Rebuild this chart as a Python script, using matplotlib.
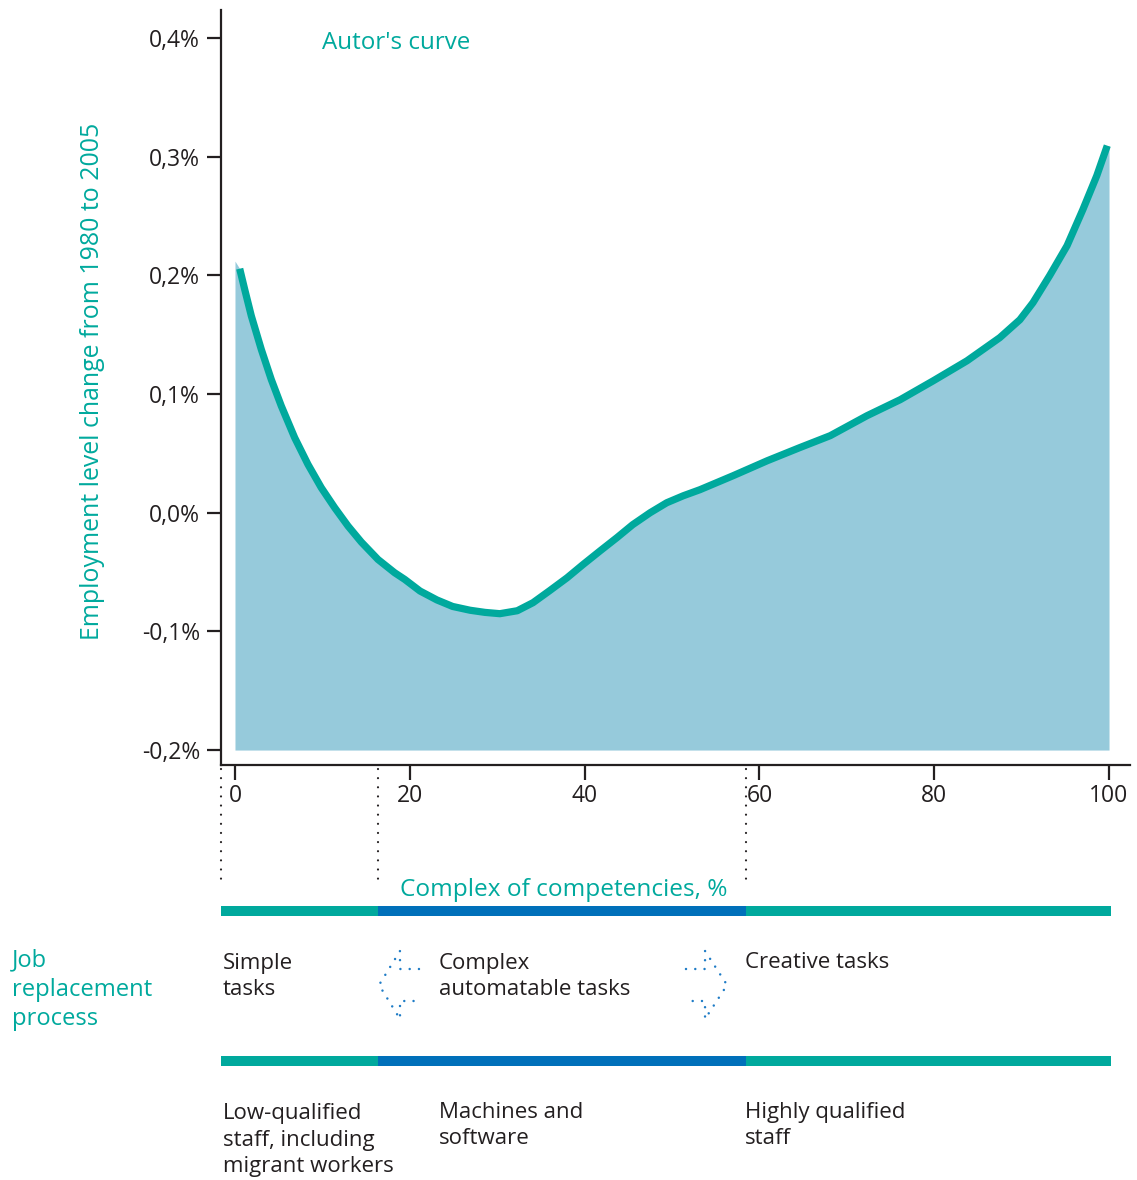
import matplotlib
matplotlib.use("Agg")
import matplotlib.pyplot as plt

# ---------------- data ----------------
competency = [0.54, 1.11, 1.87, 3.01, 4.15, 5.30, 6.83, 8.35, 9.87, 11.41, 12.93,
              14.45, 16.36, 18.27, 19.42, 21.17, 23.1, 24.9, 26.9, 28.6, 30.3, 32.3,
              34.1, 36.0, 38.0, 39.8, 41.8, 43.7, 45.5, 47.5, 49.4, 51.3, 53.2,
              57.0, 60.9, 64.6, 68.1, 72.3, 76.1, 79.9, 83.75, 87.5, 89.8, 91.3,
              93.2, 95.2, 97.0, 98.6, 99.8]
employment_change = [0.2056, 0.1882, 0.1658, 0.1376, 0.1123, 0.0899, 0.0632, 0.0407,
                     0.0211, 0.0042, -0.0112, -0.0247, -0.0394, -0.0506, -0.0562,
                     -0.0660, -0.0735, -0.0790, -0.0822, -0.0840, -0.0851, -0.0826,
                     -0.0758, -0.0657, -0.0548, -0.0438, -0.0320, -0.0210, -0.0101,
                     0.0000, 0.0084, 0.0143, 0.0194, 0.0312, 0.0438, 0.0548, 0.0649,
                     0.0817, 0.0952, 0.1112, 0.1280, 0.1475, 0.1626, 0.1770, 0.1997,
                     0.2250, 0.2553, 0.2840, 0.3093]
fill_start = (0.0, 0.212)      # area edge at x = 0
fill_end = (100.0, 0.3093)     # area edge at x = 100
area_base = -0.2

y_ticks = [-0.2, -0.1, 0.0, 0.1, 0.2, 0.3, 0.4]
y_ticklabels = ["-0,2%", "-0,1%", "0,0%", "0,1%", "0,2%", "0,3%", "0,4%"]
x_ticks = [0, 20, 40, 60, 80, 100]
x_ticklabels = ["0", "20", "40", "60", "80", "100"]

# competency bands (boundaries on the competency axis)
band_bounds = [-1.6, 16.4, 58.5, 100.2]
task_labels = ["Simple\ntasks", "Complex\nautomatable tasks", "Creative tasks"]
worker_labels = ["Low-qualified\nstaff, including\nmigrant workers",
                 "Machines and\nsoftware", "Highly qualified\nstaff"]
label_x = [-1.4, 23.3, 58.35]

# dotted arrows (competency units, vertical in layout px)
arrow_left_x = [21.05, 18.88, 18.88, 16.48, 18.88, 18.88, 21.05]
arrow_right_x = [51.6, 53.78, 53.78, 56.3, 53.78, 53.78, 51.6]
arrow_y = [969, 969, 951, 985, 1019, 1001, 1001]

# ---------------- style ----------------
TEAL = "#00A99D"
FILL = "#96CADB"
BLUE = "#0070BA"
DOT_BLUE = "#1F7CC6"
DARK = "#231F20"
FONT = ["Open Sans", "DejaVu Sans"]
plt.rcParams["font.family"] = FONT

W, H = 1137, 1180
fig = plt.figure(figsize=(W / 100, H / 100), dpi=100)

ax_left = 221 / W
ax_right = 1130 / W
ax_top = 10
ax_bottom = 765
ax = fig.add_axes([ax_left, 1 - ax_bottom / H, ax_right - ax_left, (ax_bottom - ax_top) / H])

xs_fill = [fill_start[0]] + competency + [fill_end[0]]
ys_fill = [fill_start[1]] + employment_change + [fill_end[1]]
ax.fill_between(xs_fill, ys_fill, area_base, color=FILL, lw=0, zorder=1)
ax.plot(competency, employment_change, color=TEAL, lw=5.2, solid_capstyle="butt",
        solid_joinstyle="round", zorder=3)

ax.set_xlim(-1.6, 102.4)
ax.set_ylim(-0.2126, 0.4236)
for s in ["top", "right"]:
    ax.spines[s].set_visible(False)
for s in ["left", "bottom"]:
    ax.spines[s].set_color(DARK)
    ax.spines[s].set_linewidth(1.6)
ax.set_yticks(y_ticks)
ax.set_yticklabels(y_ticklabels)
ax.set_xticks(x_ticks)
ax.set_xticklabels(x_ticklabels)
ax.tick_params(axis="y", direction="out", length=10, width=1.6, color=DARK,
               labelsize=16.5, labelcolor=DARK, pad=5)
ax.tick_params(axis="x", direction="out", length=11, width=1.6, color=DARK,
               labelsize=16.5, labelcolor=DARK, pad=3)

ax.text(10.0, 0.3905, "Autor's curve", color=TEAL, fontsize=17.4, ha="left", va="baseline")
fig.text(93 / W, 1 - 381 / H, "Employment level change from 1980 to 2005", color=TEAL,
         fontsize=17.9, rotation=90, ha="center", va="center")

# ---------------- lower panel ----------------
ax2 = fig.add_axes([ax_left, 0, ax_right - ax_left, 1 - ax_bottom / H])
ax2.set_xlim(-1.6, 102.4)
ax2.set_ylim(H, ax_bottom)
ax2.axis("off")

for xb in band_bounds[:3]:
    ax2.plot([xb, xb], [769, 885], color=DARK, lw=1.6, linestyle=(0, (0.01, 4.1)),
             dash_capstyle="round", clip_on=False)

band_colors = [TEAL, BLUE, TEAL]
segs = [(band_bounds[i], band_bounds[i + 1] - band_bounds[i]) for i in range(3)]
ax2.broken_barh(segs, (906, 10), facecolors=band_colors, lw=0)
ax2.broken_barh(segs, (1056, 10), facecolors=band_colors, lw=0)

ax2.text(18.9, 895.5, "Complex of competencies, %", color=TEAL, fontsize=17.6,
         ha="left", va="baseline")

# va='baseline' on multi-line text anchors the last line's baseline
task_last_baseline = [995, 995, 968]
worker_last_baseline = [1172, 1144.5, 1144.5]
for x, yb, t in zip(label_x, task_last_baseline, task_labels):
    ax2.text(x, yb, t, color=DARK, fontsize=16, ha="left", va="baseline",
             linespacing=1.31)
for x, yb, t in zip(label_x, worker_last_baseline, worker_labels):
    ax2.text(x, yb, t, color=DARK, fontsize=16, ha="left", va="baseline",
             linespacing=1.33)

ax2.text(-25.5, 1025, "Job\nreplacement\nprocess", color=TEAL, fontsize=17.1,
         ha="left", va="baseline", linespacing=1.29, clip_on=False)

for axx in (arrow_left_x, arrow_right_x):
    ax2.plot(axx, arrow_y, color=DOT_BLUE, lw=1.8, linestyle=(0, (0.01, 3.7)),
             dash_capstyle="round", clip_on=False)

fig.savefig("out.png", dpi=100)
